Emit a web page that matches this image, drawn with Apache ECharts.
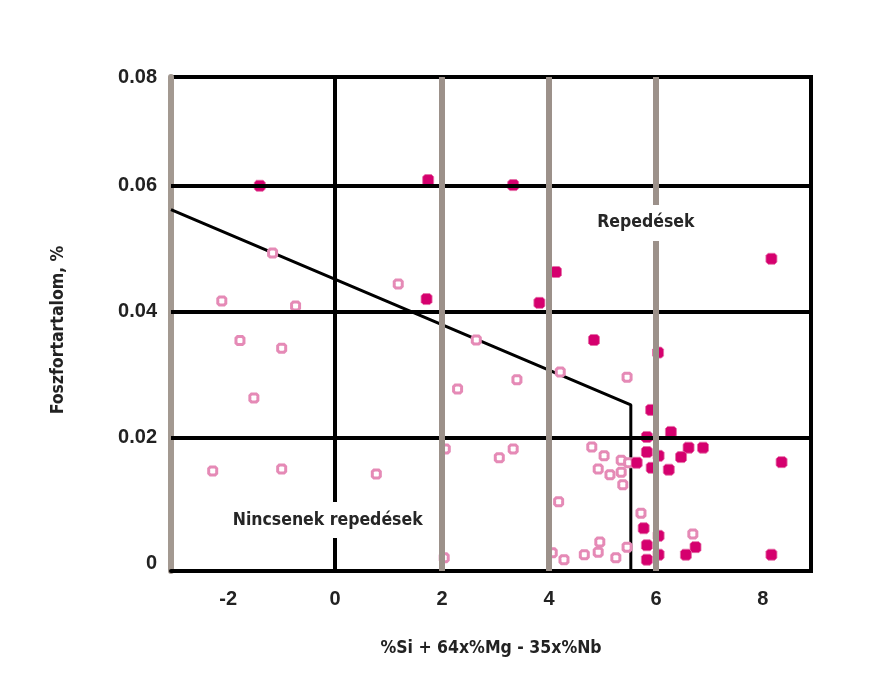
<!DOCTYPE html>
<html><head><meta charset="utf-8">
<script src="https://cdn.jsdelivr.net/npm/echarts@6/dist/echarts.min.js"></script>
<style>html,body{margin:0;padding:0;background:#fff}#c{width:878px;height:684px}</style>
</head><body><div id="c"></div>
<script>
const xTickLabels = ['-2', '0', '2', '4', '6', '8'];
const yTickLabels = ['0', '0.02', '0.04', '0.06', '0.08'];
const xGridValues = [0, 2, 4, 6];
const yGridValues = [0.02, 0.04, 0.06];

// filled markers (cracks)
const crackPoints = [
  [-1.41, 0.0600], [1.74, 0.0609], [3.33, 0.0601], [1.71, 0.0420], [4.13, 0.0463],
  [3.82, 0.0414], [8.16, 0.0484], [4.84, 0.0355], [6.04, 0.0335], [5.91, 0.0244],
  [6.28, 0.0209], [5.83, 0.0201], [5.83, 0.0177], [6.05, 0.0171], [6.61, 0.0184],
  [6.88, 0.0184], [6.47, 0.0169], [5.64, 0.0160], [5.92, 0.0152], [6.24, 0.0149],
  [8.35, 0.0161], [5.77, 0.0056], [6.05, 0.0044], [6.74, 0.0026], [5.83, 0.0029],
  [6.05, 0.0014], [6.56, 0.0014], [5.83, 0.0006], [8.16, 0.0014]
];
// hollow markers (no cracks)
const noCrackPoints = [
  [-1.17, 0.0493], [1.18, 0.0444], [-2.12, 0.0417], [-0.74, 0.0409], [-1.78, 0.0354],
  [-1.00, 0.0342], [-1.52, 0.0263], [-2.29, 0.0147], [-1.00, 0.0150], [0.77, 0.0142],
  [2.06, 0.0182], [2.04, 0.0009], [2.29, 0.0277], [2.64, 0.0355], [3.40, 0.0292],
  [4.21, 0.0304], [5.46, 0.0296], [3.33, 0.0182], [3.07, 0.0168], [4.80, 0.0185],
  [5.03, 0.0171], [5.35, 0.0164], [5.49, 0.0160], [4.92, 0.0150], [5.14, 0.0141],
  [5.35, 0.0145], [5.38, 0.0125], [4.18, 0.0098], [5.72, 0.0080], [6.69, 0.0047],
  [4.95, 0.0034], [5.46, 0.0026], [4.92, 0.0018], [4.66, 0.0014], [5.25, 0.0009],
  [4.06, 0.0017], [4.28, 0.0006]
];
const boundary = [[-3.07, 0.0562], [5.53, 0.0252], [5.53, -0.00119]];
const annotations = [
  { name: 'Repedések', value: [5.81, 0.0541] },
  { name: 'Nincsenek repedések', value: [-0.14, 0.0069] }
];

const X_MIN = -3.07, X_MAX = 8.9, Y_MIN = -0.00119, Y_MAX = 0.07727;
const condensed = "'DejaVu Sans Condensed', 'DejaVu Sans', sans-serif";
const tickFont = "'Liberation Sans', Arial, sans-serif";

const chart = echarts.init(document.getElementById('c'), null, { renderer: 'canvas' });
chart.setOption({
  backgroundColor: '#ffffff',
  animation: false,
  grid: { left: 171, right: 67, top: 77, bottom: 113, show: true, borderColor: '#000', borderWidth: 4, backgroundColor: 'transparent' },
  xAxis: {
    type: 'value', min: X_MIN, max: X_MAX, splitNumber: 6,
    axisLine: { show: true, onZero: false, lineStyle: { color: '#000', width: 4 } },
    axisTick: { show: false },
    splitLine: { show: false },
    axisLabel: {
      margin: 18, color: '#222', fontFamily: tickFont, fontWeight: 'bold', fontSize: 20,
      showMinLabel: true, showMaxLabel: true,
      formatter: function (v) {
        const r = Math.round(v);
        if (Math.abs(v - r) > 1e-6) return '';
        const s = String(r);
        return xTickLabels.indexOf(s) >= 0 ? s : '';
      }
    },
    name: '%Si + 64x%Mg - 35x%Nb', nameLocation: 'middle', nameGap: 68,
    nameTextStyle: { color: '#222', fontFamily: condensed, fontWeight: 'bold', fontSize: 17.5 }
  },
  yAxis: {
    type: 'value', min: Y_MIN, max: Y_MAX,
    axisLine: { show: true, onZero: false, lineStyle: { color: '#a39991', width: 6 } },
    axisTick: { show: false },
    splitLine: { show: false },
    axisLabel: {
      margin: 14, color: '#222', fontFamily: tickFont, fontWeight: 'bold', fontSize: 20,
      showMinLabel: true, showMaxLabel: true,
      formatter: function (v) {
        if (v < -1e-9) return '';
        if (v > 0.07) return yTickLabels[4];
        const i = Math.round(v / 0.02);
        if (Math.abs(v - i * 0.02) > 1e-6) return '';
        return yTickLabels[i] || '';
      }
    },
    name: 'Foszfortartalom, %', nameLocation: 'middle', nameGap: 104,
    nameTextStyle: { color: '#222', fontFamily: condensed, fontWeight: 'bold', fontSize: 17.5, padding: [0, 12, 0, 0] }
  },
  series: [
    {
      type: 'line', data: boundary, symbol: 'none', z: 2, silent: true,
      lineStyle: { color: '#000', width: 3 },
      markLine: {
        silent: true, symbol: ['none', 'none'], label: { show: false },
        data: [
          ...yGridValues.map(v => ({ yAxis: v, lineStyle: { color: '#000', width: 4, type: 'solid' } })),
          ...xGridValues.map(v => ({ xAxis: v, lineStyle: { color: v === 0 ? '#000' : '#9c918a', width: v === 0 ? 4 : 6, type: 'solid' } }))
        ]
      }
    },
    {
      type: 'scatter', data: noCrackPoints, z: 3, silent: true,
      symbol: 'path://M2,0H8L10,2V8L8,10H2L0,8V2Z', symbolSize: 8,
      itemStyle: { color: '#ffffff', borderColor: '#e58ab6', borderWidth: 3, opacity: 1 }
    },
    {
      type: 'scatter', data: crackPoints, z: 4, silent: true,
      symbol: 'path://M2,0H8L10,2V8L8,10H2L0,8V2Z', symbolSize: 11,
      itemStyle: { color: '#d5006e', borderColor: '#e46ea7', borderWidth: 0.8, opacity: 1 }
    },
    {
      type: 'scatter', data: annotations, z: 10, silent: true, symbolSize: 0,
      itemStyle: { opacity: 1 },
      label: {
        show: true, position: 'inside', formatter: '{b}', color: '#262626',
        fontFamily: condensed, fontWeight: 'bold', fontSize: 17.5,
        backgroundColor: '#ffffff', padding: [9, 4]
      }
    }
  ]
});
</script></body></html>
